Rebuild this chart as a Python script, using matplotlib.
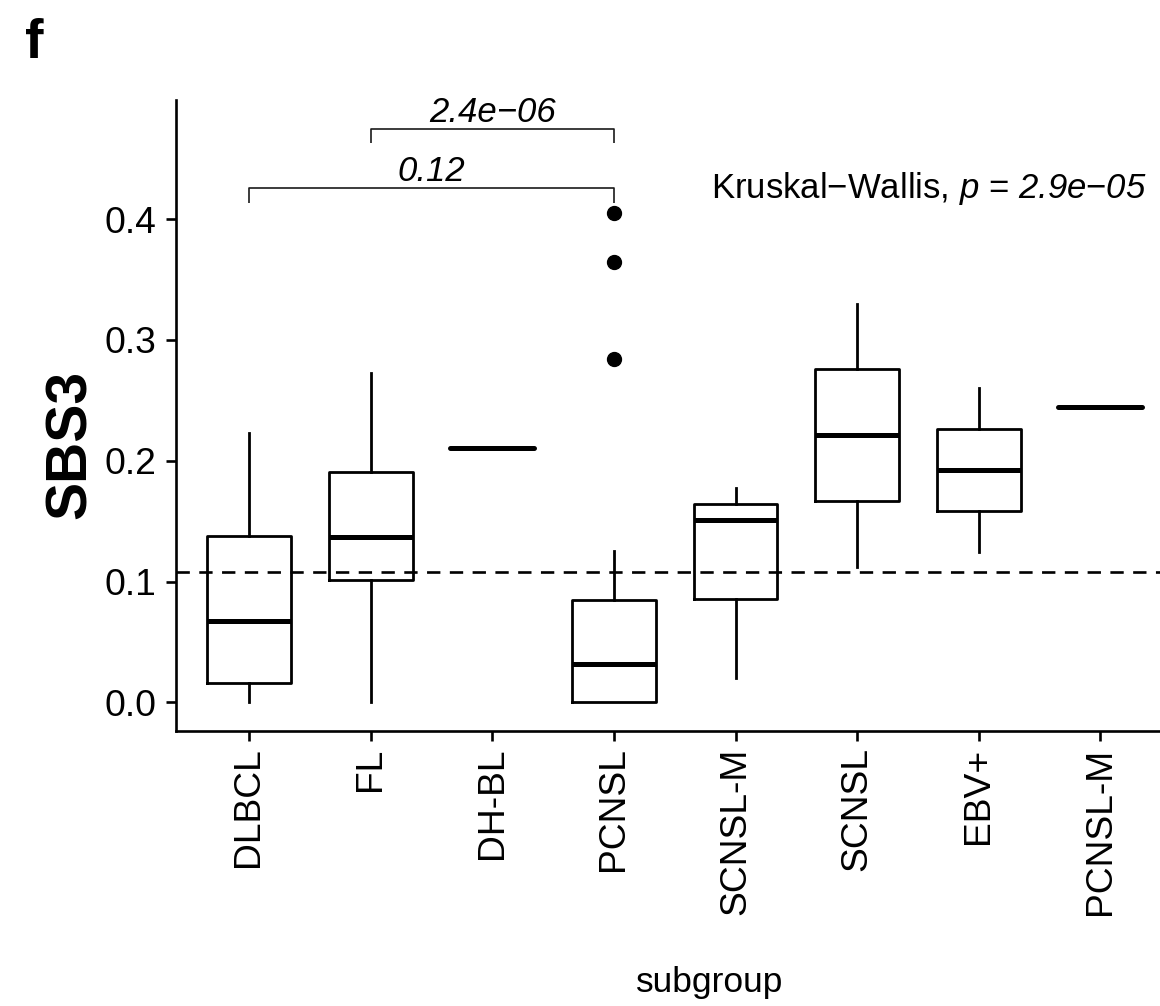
import numpy as np
import matplotlib
matplotlib.use("Agg")
import matplotlib.pyplot as plt

plt.rcParams['font.family'] = ['Liberation Sans', 'DejaVu Sans']
plt.rcParams['mathtext.fontset'] = 'custom'
plt.rcParams['mathtext.rm'] = 'Liberation Sans:italic'
plt.rcParams['mathtext.it'] = 'Liberation Sans:italic'
plt.rcParams['mathtext.default'] = 'it'
plt.rcParams['lines.scale_dashes'] = False

# ---- data ----
categories = ["DLBCL", "FL", "DH-BL", "PCNSL", "SCNSL-M", "SCNSL", "EBV+", "PCNSL-M"]
whislo = [0.0000, 0.0000, 0.2108, 0.0000, 0.0204, 0.1118, 0.1247, 0.2445]
q1     = [0.0162, 0.1010, 0.2108, 0.0000, 0.0853, 0.1664, 0.1586, 0.2445]
median = [0.0673, 0.1368, 0.2108, 0.0315, 0.1507, 0.2210, 0.1923, 0.2445]
q3     = [0.1379, 0.1904, 0.2108, 0.0844, 0.1644, 0.2757, 0.2265, 0.2445]
whishi = [0.2232, 0.2728, 0.2108, 0.1255, 0.1772, 0.3300, 0.2599, 0.2445]
outliers = {"PCNSL": [0.4053, 0.3647, 0.2839]}

threshold = 0.1076
y_ticks = [0.0, 0.1, 0.2, 0.3, 0.4]
y_tick_labels = ["0.0", "0.1", "0.2", "0.3", "0.4"]

comparisons = [("FL", "PCNSL"), ("DLBCL", "PCNSL")]
comp_labels = ["2.4e\u221206", "0.12"]
comp_y = [0.4743, 0.4257]
comp_tip = [0.0116, 0.0121]

kw_label = "Kruskal\u2212Wallis, $p$ = $2.9e$\u2212$05$"

# ---- figure ----
W, H = 1160, 1006
fig = plt.figure(figsize=(W / 100, H / 100), dpi=100)
ax = fig.add_axes([176 / W, 275 / H, 997.4 / W, 631 / H])

positions = np.arange(1, len(categories) + 1)
stats = []
for i, c in enumerate(categories):
    stats.append(dict(label=c, med=median[i], q1=q1[i], q3=q3[i],
                      whislo=whislo[i], whishi=whishi[i],
                      fliers=outliers.get(c, [])))

art = ax.bxp(stats, positions=positions, widths=0.69, showcaps=False,
             boxprops=dict(color='black', linewidth=2.0),
             whiskerprops=dict(color='black', linewidth=2.0),
             medianprops=dict(color='black', linewidth=3.6, solid_capstyle='butt'),
             flierprops=dict(marker='o', markerfacecolor='black', markeredgecolor='black',
                             markersize=10, linestyle='none'))
for i, m in enumerate(art['medians']):
    if q1[i] == q3[i]:
        m.set_solid_capstyle('round')

ax.axhline(threshold, color='black', linewidth=1.9, linestyle=(0, (9.6, 6.8)), zorder=1)

# brackets
for (a, b), lab, yy, tip in zip(comparisons, comp_labels, comp_y, comp_tip):
    xa = positions[categories.index(a)]
    xb = positions[categories.index(b)]
    ax.plot([xa, xa, xb, xb], [yy - tip, yy, yy, yy - tip], color='#1a1a1a',
            linewidth=1.2, solid_capstyle='butt', clip_on=False)
    ax.annotate(lab, xy=((xa + xb) / 2, yy), xytext=(0, 5.3), textcoords='offset points',
                ha='center', va='baseline', fontsize=25, fontstyle='italic')

ax.text(4.797, 0.4172, kw_label, ha='left', va='baseline', fontsize=25)

ax.set_xlim(0.4, 8.6)
ax.set_ylim(-0.02376, 0.4986)
ax.set_xticks(positions)
ax.set_xticklabels(categories, rotation=90, ha='center', va='top', fontsize=26.8)
ax.set_yticks(y_ticks)
ax.set_yticklabels(y_tick_labels, fontsize=26.8)

for s in ['top', 'right']:
    ax.spines[s].set_visible(False)
for s in ['left', 'bottom']:
    ax.spines[s].set_linewidth(1.9)
ax.tick_params(axis='both', direction='out', length=7, width=1.9, colors='black')
ax.tick_params(axis='y', pad=7)
ax.tick_params(axis='x', pad=4.8)

ax.set_ylabel("SBS3", fontsize=41, fontweight='bold')
ax.yaxis.set_label_coords(-0.1053, 0.4548)
ax.yaxis.label.set_va('center')
ax.yaxis.label.set_ha('center')

ax.set_xlabel("subgroup", fontsize=25.5)
ax.xaxis.set_label_coords(0.5351, -0.4132)
ax.xaxis.label.set_va('baseline')

fig.text(25 / W, 1 - 58 / H, "f", fontsize=40, fontweight='bold', ha='left', va='baseline')

fig.savefig("out.png", dpi=100)
